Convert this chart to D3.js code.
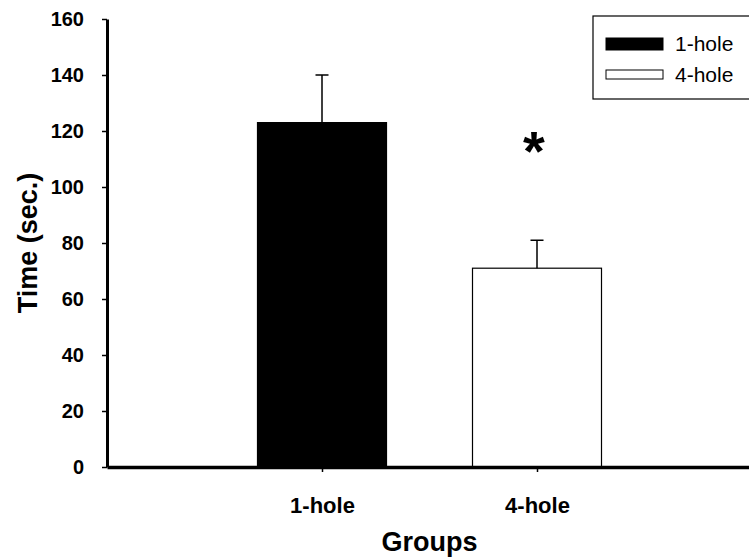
<!DOCTYPE html>
<html>
<head>
<meta charset="utf-8">
<script src="https://cdn.jsdelivr.net/npm/d3@7"></script>
<style>
	body { margin: 0; background: #fff; }
	text { font-family: "Liberation Sans", Arial, sans-serif; }
	.axis text { font-weight: bold; font-size: 20px; fill: #000; }
	.axisLabel { font-weight: bold; font-size: 27px; fill: #000; }
	.legendText { font-size: 21px; fill: #000; }
</style>
</head>
<body>
<script>
	// chart data
	var groups = ["1-hole", "4-hole"];
	var means = [123, 71];
	var errors = [17, 10];
	var fills = ["#000", "#fff"];
	var yTicks = [0, 20, 40, 60, 80, 100, 120, 140, 160];
	var significant = [false, true];

	var width = 749, height = 559;
	var margin = { top: 19, left: 107, bottom: 92 };
	var plotHeight = height - margin.top - margin.bottom;

	var svg = d3.select("body").append("svg")
		.attr("width", width)
		.attr("height", height);

	var g = svg.append("g")
		.attr("transform", "translate(" + margin.left + "," + margin.top + ")");

	// y scale
	var y = d3.scaleLinear().domain([0, 160]).range([plotHeight, 0]);

	// x scale: one empty slot on each side of the two groups
	var slots = ["_a"].concat(groups).concat(["_b"]);
	var x = d3.scalePoint().domain(slots).range([0, 645]);
	var step = x.step();
	var barWidth = step * 0.6;

	// bars
	g.selectAll(".bar")
		.data(groups)
		.enter().append("rect")
		.attr("class", "bar")
		.attr("x", d => x(d) - barWidth / 2)
		.attr("y", (d, i) => y(means[i]))
		.attr("width", barWidth)
		.attr("height", (d, i) => y(0) - y(means[i]))
		.style("fill", (d, i) => fills[i])
		.style("stroke", "#000")
		.style("stroke-width", 1.2);

	// error bars (upper only)
	g.selectAll(".err")
		.data(groups)
		.enter().append("path")
		.attr("class", "err")
		.attr("d", function(d, i) {
			var cx = x(d), top = y(means[i] + errors[i]), base = y(means[i]);
			return "M" + cx + "," + base + "V" + top + "M" + (cx - 6.5) + "," + top + "H" + (cx + 6.5);
		})
		.style("stroke", "#000")
		.style("stroke-width", 1.5)
		.style("fill", "none");

	// significance marker
	g.selectAll(".star")
		.data(groups.filter((d, i) => significant[i]))
		.enter().append("text")
		.attr("class", "star")
		.attr("x", d => x(d) - 3)
		.attr("y", y(106))
		.attr("text-anchor", "middle")
		.style("font-size", "56px")
		.style("font-weight", "bold")
		.text("*");

	// y axis
	var yAxis = d3.axisLeft(y).tickValues(yTicks).tickSize(5).tickPadding(18).tickSizeOuter(0);
	var yAxisSvg = g.append("g").attr("class", "axis").call(yAxis);
	yAxisSvg.select(".domain").style("stroke-width", 3);
	yAxisSvg.selectAll(".tick line").style("stroke-width", 1.5);

	// x axis
	var xAxis = d3.axisBottom(x).tickValues(groups).tickSize(5).tickPadding(25).tickSizeOuter(0);
	var xAxisSvg = g.append("g").attr("class", "axis")
		.attr("transform", "translate(0," + plotHeight + ")")
		.call(xAxis);
	xAxisSvg.select(".domain").style("stroke-width", 3.5);
	xAxisSvg.selectAll(".tick line").style("stroke-width", 1.5);
	xAxisSvg.selectAll(".tick text").style("font-size", "22px");

	// axis labels
	svg.append("text")
		.attr("class", "axisLabel")
		.attr("text-anchor", "middle")
		.attr("transform", "translate(37," + (margin.top + plotHeight / 2) + ")rotate(-90)")
		.text("Time (sec.)");

	svg.append("text")
		.attr("class", "axisLabel")
		.attr("text-anchor", "middle")
		.attr("x", margin.left + (x("1-hole") + x("4-hole")) / 2)
		.attr("y", 551)
		.text("Groups");

	// legend
	var legend = svg.append("g").attr("transform", "translate(593,16)");
	legend.append("rect")
		.attr("width", 170).attr("height", 83)
		.style("fill", "#fff").style("stroke", "#000").style("stroke-width", 1.2);
	var items = legend.selectAll(".item")
		.data(groups)
		.enter().append("g")
		.attr("transform", (d, i) => "translate(13," + (22 + i * 31) + ")");
	items.append("rect")
		.attr("width", 57).attr("height", (d, i) => i === 0 ? 12 : 9)
		.attr("y", (d, i) => i === 0 ? 0 : 1)
		.style("fill", (d, i) => fills[i])
		.style("stroke", "#000").style("stroke-width", 1);
	items.append("text")
		.attr("class", "legendText")
		.attr("x", 69).attr("y", 13)
		.text(d => d);
</script>
</body>
</html>
